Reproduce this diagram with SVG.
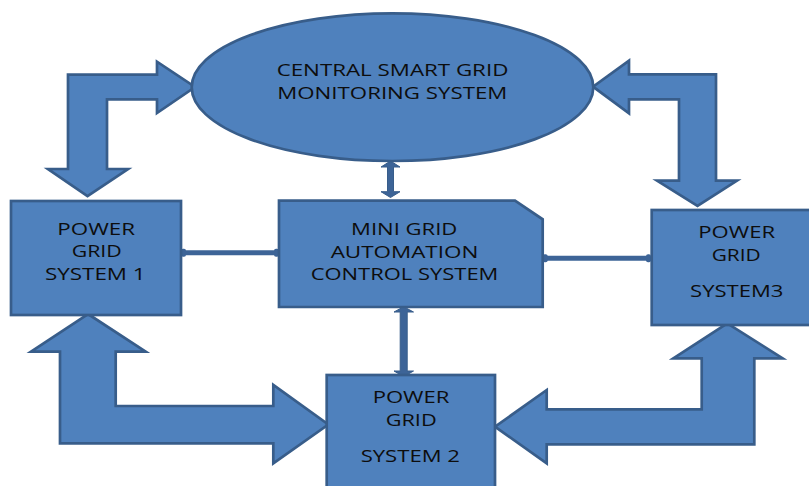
<svg xmlns="http://www.w3.org/2000/svg" width="809" height="486" viewBox="0 0 809 486">
<style>
.shape{fill:#4F81BD;stroke:#385D8A;stroke-width:2.7;stroke-linejoin:miter}
.small{fill:#3D6497;stroke:#385D8A;stroke-width:1}
.line{stroke:#3D6497;stroke-width:5;fill:none}
.dot{fill:#3D6497}
text{font-family:"Open Sans","Liberation Sans",sans-serif;font-size:17px;fill:#0d0d0d;text-anchor:middle}
</style>
<rect width="809" height="486" fill="#ffffff"/>
<g id="connectors">
  <polygon class="shape" points="68,74.7 157,74.7 157,61.7 195,87 157,113 157,99.3 107,99.3 107,169 128,169 87.5,196 48,169 68,169"/>
  <polygon class="shape" points="629,60.7 629,74.3 716,74.3 716,180.7 737,180.7 697.5,206 657,180.7 679,180.7 679,99.3 629,99.3 629,113.3 593,86.7"/>
  <polygon class="shape" points="88,314 145.7,351.7 115.7,351.7 115.7,406 273.3,406 273.3,385 328.3,424.5 273.3,463.3 273.3,443.3 60,443.3 60,351.7 31,351.7"/>
  <polygon class="shape" points="727.3,323.3 782.7,358.3 754.3,358.3 754.3,444.3 546.7,444.3 546.7,463.3 495,426.7 546.7,390 546.7,409.3 701.7,409.3 701.7,358.3 673.3,358.3"/>
  <polygon class="small" points="390.5,161 400,167 393.5,167 393.5,191.7 400,191.7 390.5,197.5 381,191.7 387.5,191.7 387.5,167 381,167"/>
  <polygon class="small" points="403.7,306.7 413.5,312 407.2,312 407.2,371 413.5,371 403.7,376.7 394,371 400.2,371 400.2,312 394,312"/>
  <line class="line" x1="183" y1="252.7" x2="278" y2="252.7"/>
  <rect class="dot" x="181" y="248.7" width="5" height="8" rx="2"/>
  <rect class="dot" x="274" y="248.7" width="5" height="8" rx="2"/>
  <line class="line" x1="544" y1="258.3" x2="650" y2="258.3"/>
  <rect class="dot" x="542.7" y="254.3" width="5" height="8" rx="2"/>
  <rect class="dot" x="646" y="254.3" width="5" height="8" rx="2"/>
</g>
<g id="central">
  <ellipse class="shape" cx="392.5" cy="87.2" rx="200.8" ry="73.8"/>
  <text x="392.5" y="75.7" textLength="231.7" lengthAdjust="spacingAndGlyphs">CENTRAL SMART GRID</text>
  <text x="392.3" y="99" textLength="230" lengthAdjust="spacingAndGlyphs">MONITORING SYSTEM</text>
</g>
<g id="minigrid">
  <path class="shape" d="M279,200.7 H515 L542.7,219.3 V307 H279 Z"/>
  <text x="404.2" y="235" textLength="106.3" lengthAdjust="spacingAndGlyphs">MINI GRID</text>
  <text x="404.5" y="257.7" textLength="147.7" lengthAdjust="spacingAndGlyphs">AUTOMATION</text>
  <text x="404.5" y="280" textLength="187.7" lengthAdjust="spacingAndGlyphs">CONTROL SYSTEM</text>
</g>
<g id="pgs1">
  <rect class="shape" x="11" y="201" width="170" height="114"/>
  <text x="96.2" y="235" textLength="77.7" lengthAdjust="spacingAndGlyphs">POWER</text>
  <text x="96.7" y="257.3" textLength="50" lengthAdjust="spacingAndGlyphs">GRID</text>
  <text x="95.3" y="280" textLength="100.7" lengthAdjust="spacingAndGlyphs">SYSTEM 1</text>
</g>
<g id="pgs3">
  <rect class="shape" x="651.7" y="210" width="170" height="115"/>
  <text x="736.7" y="237.7" textLength="76.7" lengthAdjust="spacingAndGlyphs">POWER</text>
  <text x="736.2" y="261" textLength="49" lengthAdjust="spacingAndGlyphs">GRID</text>
  <text x="736.7" y="296.7" textLength="93.3" lengthAdjust="spacingAndGlyphs">SYSTEM3</text>
</g>
<g id="pgs2">
  <rect class="shape" x="326.7" y="375" width="168.3" height="125"/>
  <text x="411" y="402.7" textLength="76.7" lengthAdjust="spacingAndGlyphs">POWER</text>
  <text x="411.2" y="426" textLength="51" lengthAdjust="spacingAndGlyphs">GRID</text>
  <text x="410.3" y="461.7" textLength="99.3" lengthAdjust="spacingAndGlyphs">SYSTEM 2</text>
</g>
</svg>
